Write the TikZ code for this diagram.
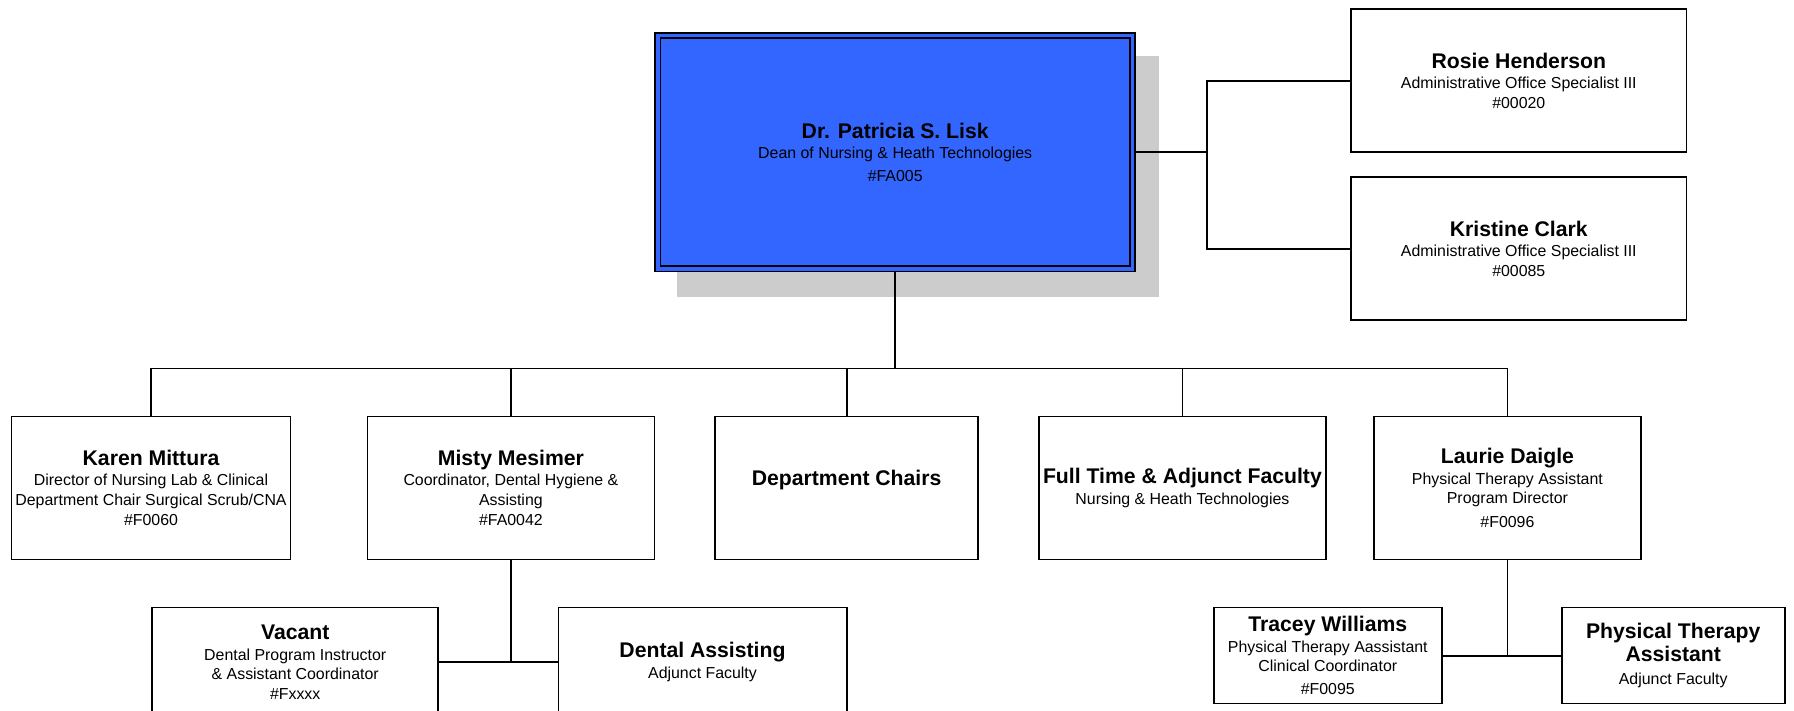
\documentclass[tikz,border=0pt]{standalone}
\usepackage{fontspec}
\setmainfont{Liberation Sans}
\usetikzlibrary{backgrounds}
\definecolor{deanblue}{HTML}{3366FF}
\definecolor{shadowgray}{HTML}{CCCCCC}
\newcommand{\pname}[1]{{\fontsize{21.2}{25}\selectfont\bfseries #1}}
\newcommand{\ptitle}{\fontsize{15.9}{19.5}\selectfont}
\begin{document}
\begin{tikzpicture}[x=1pt, y=-1pt,
  box/.style={draw, line width=1.7pt, fill=white, align=center, font=\ptitle, inner sep=0pt},
  deanbox/.style={box, fill=deanblue, double=deanblue, double distance=3.6pt, outer sep=3.4pt},
  link/.style={line width=1.8pt}]
\useasboundingbox (0,0) rectangle (1794,711);
\clip (0,0) rectangle (1794,711);
%%%%
\node[deanbox, minimum width=474.8pt, minimum height=233.5pt] (dean) at (895.2,152.2)
  {\pname{Dr. Patricia S. Lisk}\\[1pt] Dean of Nursing \& Heath Technologies\\[3pt] \#FA005};
\begin{scope}[on background layer]
\fill[shadowgray] ([shift={(23,24)}]dean.north west) rectangle ([shift={(23,25)}]dean.south east);
\end{scope}
\node[box, minimum width=335.2pt, minimum height=143pt] (rosie) at (1518.8,80.7)
  {\pname{Rosie Henderson}\\[1pt] Administrative Office Specialist III\\ \#00020};
\node[box, minimum width=335.2pt, minimum height=143pt] (kristine) at (1518.8,248.8)
  {\pname{Kristine Clark}\\[1pt] Administrative Office Specialist III\\ \#00085};
%%%%
\node[box, minimum width=279.2pt, minimum height=143pt] (karen) at (151,488)
  {\pname{Karen Mittura}\\[1pt] Director of Nursing Lab \& Clinical\\ Department Chair Surgical Scrub/CNA\\[1pt] \#F0060};
\node[box, minimum width=287pt, minimum height=143pt] (misty) at (510.9,488)
  {\pname{Misty Mesimer}\\[1pt] Coordinator, Dental Hygiene \&\\ Assisting\\[1pt] \#FA0042};
\node[box, minimum width=263.2pt, minimum height=143pt] (chairs) at (846.6,488)
  {\pname{Department Chairs}\\ \mbox{}};
\node[box, minimum width=287.2pt, minimum height=143pt] (faculty) at (1182.4,488)
  {\pname{Full Time \& Adjunct Faculty}\\[1pt] Nursing \& Heath Technologies};
\node[box, minimum width=266.7pt, minimum height=143pt] (laurie) at (1507.4,488)
  {\pname{Laurie Daigle}\\[1pt] Physical Therapy Assistant\\ Program Director\\[4pt] \#F0096};
%%%%
\node[box, minimum width=286pt, minimum height=109pt] (vacant) at (295.2,662)
  {\pname{Vacant}\\[1pt] Dental Program Instructor\\ \& Assistant Coordinator\\ \#Fxxxx};
\node[box, minimum width=288.3pt, minimum height=109pt] (dental) at (702.5,662)
  {\pname{Dental Assisting}\\[1pt] Adjunct Faculty};
\node[box, minimum width=227.7pt, minimum height=96pt] (tracey) at (1327.8,655.6)
  {\pname{Tracey Williams}\\[1pt] Physical Therapy Aassistant\\ Clinical Coordinator\\[3pt] \#F0095};
\node[box, minimum width=223.1pt, minimum height=96pt] (pta) at (1673.2,655.6)
  {\pname{Physical Therapy}\\[2pt] \pname{Assistant}\\[4pt] Adjunct Faculty};
%%%%
\coordinate (bus) at (0,368.4);
\coordinate (side) at (1207,0);
\draw[link] (dean.south) -- (dean.south |- bus);
\draw[link] (karen.north) |- (laurie.north |- bus) -- (laurie.north);
\foreach \n in {misty,chairs,faculty}
  \draw[link] (\n.north) -- (\n.north |- bus);
\draw[link] (dean.east) -- (dean.east -| side);
\draw[link] (rosie.west) -| (side |- dean.east) |- (kristine.west);
\draw[link] (misty.south) -- (misty.south |- vacant.east);
\draw[link] (vacant.east) -- (dental.west);
\draw[link] (laurie.south) -- (laurie.south |- tracey.east);
\draw[link] (tracey.east) -- (pta.west);
\end{tikzpicture}
\end{document}
